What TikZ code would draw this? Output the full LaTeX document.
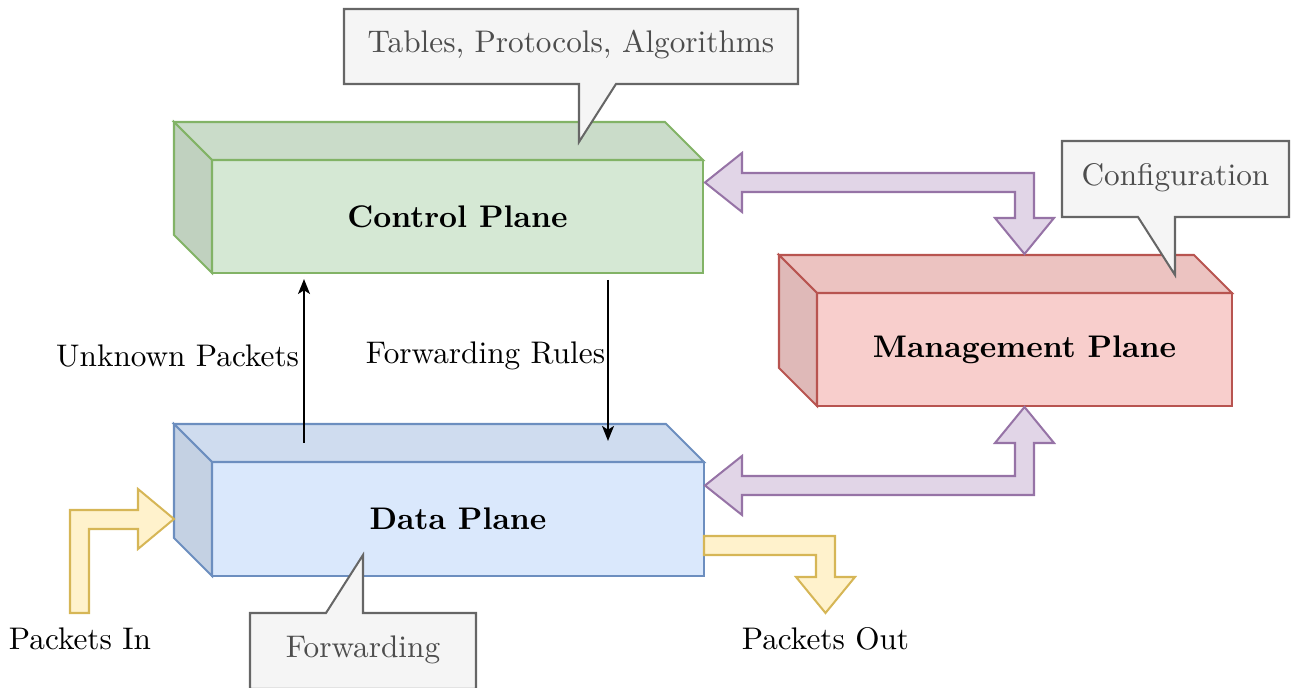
\documentclass[tikz,border=0pt]{standalone}
\usetikzlibrary{arrows.meta}
\definecolor{cpfront}{HTML}{D5E8D4}
\definecolor{cptop}{HTML}{CADCC9}
\definecolor{cpside}{HTML}{C0D1BF}
\definecolor{cpline}{HTML}{82B366}
\definecolor{dpfront}{HTML}{DAE8FC}
\definecolor{dptop}{HTML}{CFDCEF}
\definecolor{dpside}{HTML}{C4D1E3}
\definecolor{dpline}{HTML}{6C8EBF}
\definecolor{mpfront}{HTML}{F8CECC}
\definecolor{mptop}{HTML}{ECC3C1}
\definecolor{mpside}{HTML}{DFB9B8}
\definecolor{mpline}{HTML}{B85450}
\definecolor{purfill}{HTML}{E1D5E7}
\definecolor{purline}{HTML}{9673A6}
\definecolor{yelfill}{HTML}{FFF2CC}
\definecolor{yelline}{HTML}{D6B656}
\definecolor{calfill}{HTML}{F5F5F5}
\definecolor{calline}{HTML}{666666}
\definecolor{caltext}{HTML}{4D4D4D}
\newcommand\pxu{0.32pt}
\begin{document}
\begin{tikzpicture}[x=0.32pt,y=-0.32pt,line width=0.65pt,line join=miter,
  frontface/.style={rectangle,inner sep=0pt,outer sep=0pt,font=\bfseries},
  fatpur/.style={draw=purline,fill=purfill},
  fatyel/.style={draw=yelline,fill=yelfill},
  callout/.style={draw=calline,fill=calfill},
  caltxt/.style={text=caltext,inner sep=0pt},
  plain/.style={inner sep=0pt},
  blk/.style={draw=black,-{Stealth[length=4.8pt,width=3.8pt,inset=1.2pt]}}]
\useasboundingbox (0,0) rectangle (1291,688);
\clip (0,0) rectangle (1291,688);

% Control Plane cube
\node[frontface,fill=cpfront,draw=cpline,minimum width={491*\pxu},minimum height={113*\pxu}] (cp) at (457.5,216.5) {Control Plane};
\draw[draw=cpline,fill=cptop] (cp.north west) -- ++(-38,-38) -- ++(491,0) -- (cp.north east) -- cycle;
\draw[draw=cpline,fill=cpside] (cp.north west) -- ++(-38,-38) -- ++(0,113) -- (cp.south west) -- cycle;

% Data Plane cube
\node[frontface,fill=dpfront,draw=dpline,minimum width={492*\pxu},minimum height={114*\pxu}] (dp) at (458,519) {Data Plane};
\draw[draw=dpline,fill=dptop] (dp.north west) -- ++(-38,-38) -- ++(492,0) -- (dp.north east) -- cycle;
\draw[draw=dpline,fill=dpside] (dp.north west) -- ++(-38,-38) -- ++(0,114) -- (dp.south west) -- cycle;

% Management Plane cube
\node[frontface,fill=mpfront,draw=mpline,minimum width={415*\pxu},minimum height={113*\pxu}] (mp) at (1024.5,349.5) {Management Plane};
\draw[draw=mpline,fill=mptop] (mp.north west) -- ++(-38,-38) -- ++(415,0) -- (mp.north east) -- cycle;
\draw[draw=mpline,fill=mpside] (mp.north west) -- ++(-38,-38) -- ++(0,113) -- (mp.south west) -- cycle;

% Callouts
\draw[callout] (344,9) -- (798,9) -- (798,84) -- (616,84) -- (579,142) -- (579,84) -- (344,84) -- cycle;
\node[caltxt] (tpa) at (571,45) {Tables, Protocols, Algorithms};

\draw[callout] (1062,141) -- (1289,141) -- (1289,217) -- (1175,217) -- (1175,275) -- (1138,217) -- (1062,217) -- cycle;
\node[caltxt] (cfg) at (1175.5,178) {Configuration};

\draw[callout] (250,613) -- (326,613) -- (363,555) -- (363,613) -- (476,613) -- (476,689) -- (250,689) -- cycle;
\node[caltxt] (fwd) at (363,650) {Forwarding};

% Purple double arrows
\draw[fatpur] (705,182.5) -- (742,153) -- (742,173) -- (1034,173) -- (1034,218) -- (1054,218) -- (1024.5,254)
  -- (995,218) -- (1015,218) -- (1015,192) -- (742,192) -- (742,212) -- cycle;
\draw[fatpur] (705,485.5) -- (742,456) -- (742,476) -- (1015,476) -- (1015,443) -- (995,443) -- (1024.5,407)
  -- (1054,443) -- (1034,443) -- (1034,495) -- (742,495) -- (742,515) -- cycle;

% Yellow arrows
\draw[fatyel] (70,613) -- (70,510) -- (138,510) -- (138,489) -- (174,519) -- (138,549) -- (138,529) -- (89,529) -- (89,613) -- cycle;
\draw[fatyel] (704,536) -- (835,536) -- (835,577) -- (855,577) -- (825.5,613) -- (796,577) -- (816,577) -- (816,555) -- (704,555) -- cycle;

% Black arrows
\coordinate (unkS) at (304,443);
\coordinate (unkE) at (304,279);
\coordinate (fwrS) at (608,280);
\coordinate (fwrE) at (608,441);
\draw[blk] (unkS) -- (unkE);
\draw[blk] (fwrS) -- (fwrE);

% Labels
\node[plain,anchor=east] (unk) at (300,356) {Unknown Packets};
\node[plain] (fwr) at (485.5,356) {Forwarding Rules};
\node[plain] (pin) at (80,639) {Packets In};
\node[plain] (pout) at (825.5,639) {Packets Out};
\end{tikzpicture}
\end{document}
